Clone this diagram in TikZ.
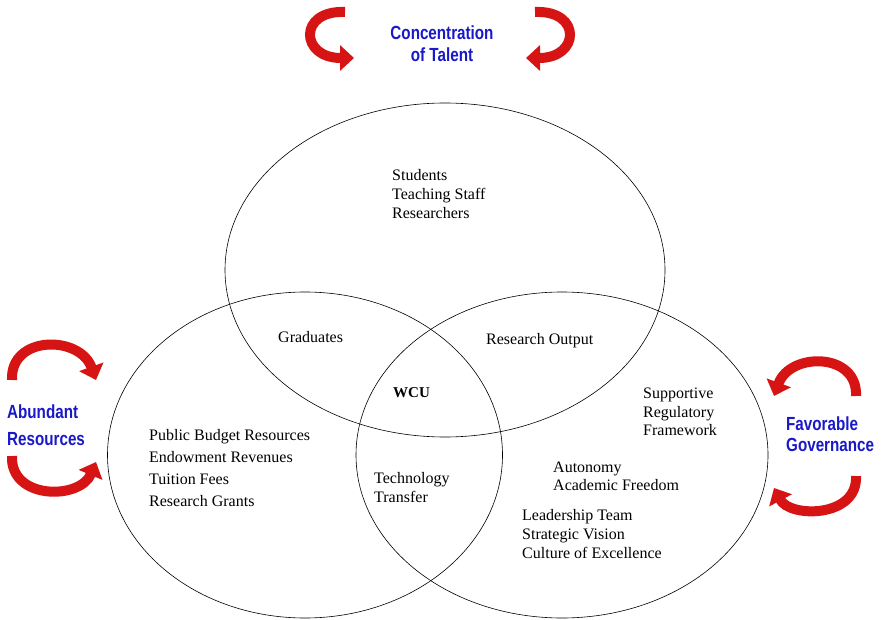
\documentclass[tikz,border=0pt]{standalone}
\usepackage{fontspec}
\setmainfont{Liberation Serif}
\newfontfamily\labelfont[FakeStretch=0.8]{Liberation Sans}
\usetikzlibrary{shapes.geometric,arrows.meta}
\definecolor{labelblue}{RGB}{25,25,200}
\definecolor{arrowred}{RGB}{215,20,20}

\begin{document}
\begin{tikzpicture}[x=1pt,y=-1pt,
  venn/.style={ellipse,draw,line width=0.6pt,inner sep=0pt},
  listtext/.style={anchor=west,align=left,inner sep=0pt,font=\fontsize{16}{19}\selectfont},
  factor/.style={inner sep=0pt,text=labelblue,font=\labelfont\bfseries\fontsize{19}{21}\selectfont},
  turnarrow/.style={line width=10pt,draw=arrowred,-{Triangle[width=25pt,length=14pt]}}]
  \useasboundingbox (0,0) rectangle (883,620);

  % the three circles
  \node[venn,minimum width=440pt,minimum height=334pt] (talent) at (445,270) {};
  \node[venn,minimum width=395pt,minimum height=326pt] (resources) at (305,455) {};
  \node[venn,minimum width=412pt,minimum height=326pt] (governance) at (562,455) {};

  % contents
  \node[listtext] (people) at (392,194) {Students\\Teaching Staff\\Researchers};
  \node[listtext] (grads) at (278,337) {Graduates};
  \node[listtext] (output) at (486,341) {Research Output};
  \node[listtext,font=\bfseries\fontsize{15}{18}\selectfont] (wcu) at (393,393) {WCU};
  \node[listtext,font=\fontsize{16}{22}\selectfont] (funds) at (149,468)
    {Public Budget Resources\\Endowment Revenues\\Tuition Fees\\Research Grants};
  \node[listtext] (transfer) at (374,488) {Technology\\Transfer};
  \node[listtext,font=\fontsize{16}{18.5}\selectfont] (rules) at (643,412)
    {Supportive\\Regulatory\\Framework};
  \node[listtext,font=\fontsize{16}{18}\selectfont] (freedom) at (553,476) {Autonomy\\Academic Freedom};
  \node[listtext] (leaders) at (522,534) {Leadership Team\\Strategic Vision\\Culture of Excellence};

  % outer labels
  \node[factor,align=center,font=\labelfont\bfseries\fontsize{19}{22}\selectfont] (conc) at (442,44)
    {Concentration\\of Talent};
  \node[factor,anchor=west,align=left,font=\labelfont\bfseries\fontsize{19}{27}\selectfont] (abund) at (7,425)
    {Abundant\\Resources};
  \node[factor,anchor=west,align=left] (favor) at (786,434) {Favorable\\Governance};

  % red arrows
  \draw[turnarrow] (345,12) .. controls (298,10) and (300,58) .. (354,58);
  \draw[turnarrow] (535,12) .. controls (582,10) and (580,58) .. (526,58);
  \draw[turnarrow] (12,380) .. controls (10,335) and (80,335) .. (96,380);
  \draw[turnarrow] (12,456) .. controls (10,500) and (80,500) .. (96,462);
  \draw[turnarrow] (856,396) .. controls (858,352) and (790,352) .. (774,396);
  \draw[turnarrow] (856,476) .. controls (858,518) and (790,518) .. (774,488);
\end{tikzpicture}
\end{document}
